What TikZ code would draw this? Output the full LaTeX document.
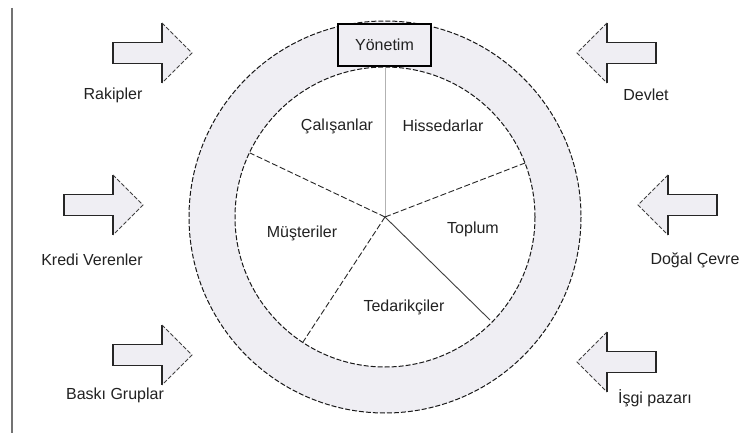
\documentclass[tikz,border=0pt]{standalone}
\usepackage{fontspec}
\setmainfont{Liberation Sans}
\usetikzlibrary{calc}
\definecolor{ringfill}{HTML}{EFEEF3}
\definecolor{txt}{HTML}{222222}
\tikzset{
  lbl/.style={text=txt,font=\fontsize{16}{19}\selectfont,inner sep=0pt},
  ringline/.style={draw=black!90,line width=1pt,dash pattern=on 5pt off 2pt},
  pieline/.style={draw=black!85,line width=0.9pt,dash pattern=on 6pt off 2.5pt},
  pics/blockarrow/.style={code={
    \fill[ringfill] (0,-10.5) -- (49,-10.5) -- (49,-30) -- (79,0) -- (49,30) -- (49,10.5) -- (0,10.5) -- cycle;
    \draw[black!85,line width=1.1pt,line join=miter] (49,-30) -- (49,-10.5) -- (0,-10.5) -- (0,10.5) -- (49,10.5) -- (49,30);
    \draw[black!75,line width=0.9pt,dash pattern=on 4pt off 2pt] (49,-30) -- (79,0) -- (49,30);
  }}
}
\begin{document}
\begin{tikzpicture}[x=1pt,y=-1pt]
\useasboundingbox (0,0) rectangle (746,435);
\fill[white] (0,0) rectangle (746,435);
% left frame line
\coordinate (lt) at (12,8);
\coordinate (lb) at (12,433);
\draw[black!55,line width=1.6pt] (lt) -- (lb);
% ring
\coordinate (c) at (385,217);
\fill[ringfill,even odd rule] (c) circle[radius=196] (c) circle[radius=150];
\draw[ringline] (c) circle[radius=196];
\draw[ringline] (c) circle[radius=150];
% pie divisions
\coordinate (ptop) at (385,67);
\coordinate (pul) at (250,153);
\coordinate (pur) at (525,163);
\coordinate (plr) at (490,320);
\coordinate (pll) at (303,342);
\draw[black!30,line width=0.7pt] (c) -- (ptop);
\draw[pieline] (c) -- (pul);
\draw[pieline] (c) -- (pur);
\draw[pieline] (c) -- (pll);
\draw[black!75,line width=0.9pt] (c) -- (plr);
% management box
\node[lbl,draw=black,line width=1.3pt,fill=ringfill,minimum width=93pt,minimum height=42pt] (yon) at (384.5,45) {Yönetim};
% sector labels
\node[lbl] (cal) at (337,126) {Çalışanlar};
\node[lbl] (his) at (443,126) {Hissedarlar};
\node[lbl] (mus) at (302,233) {Müşteriler};
\node[lbl] (top) at (473,229) {Toplum};
\node[lbl] (ted) at (404,307) {Tedarikçiler};
% arrows left
\pic at (113,53) {blockarrow};
\pic at (64,205) {blockarrow};
\pic at (113,355) {blockarrow};
% arrows right
\pic[xscale=-1] at (656,53) {blockarrow};
\pic[xscale=-1] at (717,205) {blockarrow};
\pic[xscale=-1] at (656,362) {blockarrow};
% external labels
\node[lbl] (rak) at (113,95) {Rakipler};
\node[lbl] (kre) at (92,260) {Kredi Verenler};
\node[lbl] (bas) at (115,395) {Baskı Gruplar};
\node[lbl] (dev) at (646,95) {Devlet};
\node[lbl] (dog) at (695,260) {Doğal Çevre};
\node[lbl] (isg) at (655,398) {İşgi pazarı};
\end{tikzpicture}
\end{document}
